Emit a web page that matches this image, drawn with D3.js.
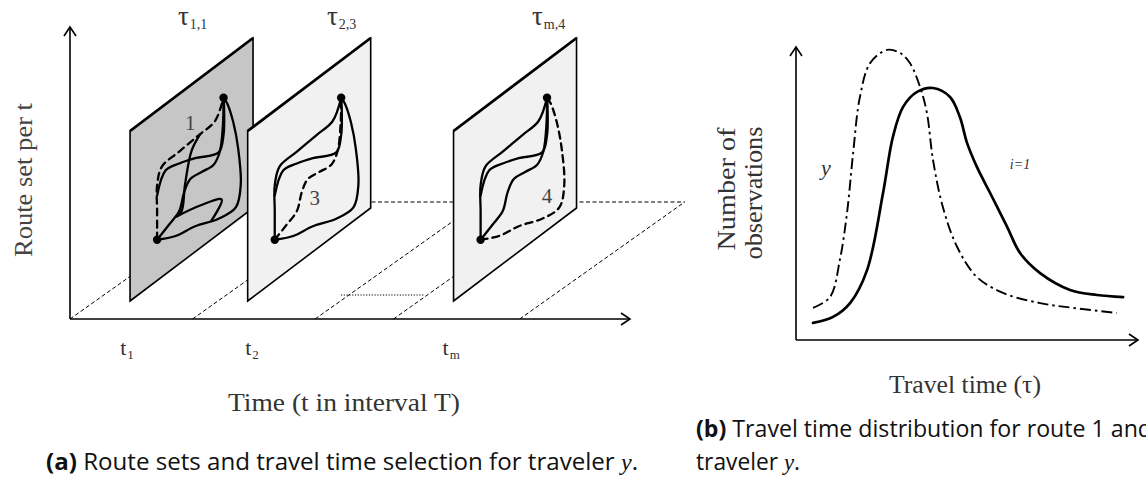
<!DOCTYPE html>
<html>
<head>
<meta charset="utf-8">
<script src="https://cdn.jsdelivr.net/npm/d3@7"></script>
<style>
body { margin: 0; background: #fff; }
svg { display: block; }
</style>
</head>
<body>
<div id="chart"></div>
<script>
// ---- data (a): time axis, panels, routes ----
var intervalEdges = [0, 1, 2, 2.64, 3.67];          // floor lines, in t units
var gapInterval = [2, 2.64];                         // dotted "..." between t2 and tm
var timeLabels = [["t", "1"], ["t", "2"], ["t", "m"]];
var timeLabelSlots = [0.41, 1.43, 3.04];
var panelSlots = [0.49, 1.45, 3.13];
var panelTau = [["\u03c4", "1,1"], ["\u03c4", "2,3"], ["\u03c4", "m,4"]];
var chosenRoute = [0, 2, 3];                         // dashed route per panel
var routeNames = ["1", "3", "4"];

// routes in panel units (u across, v up), shared by all panels
var routes = [
  [[0.22,0.24],[0.22,0.41],[0.22,0.56],[0.26,0.65],[0.40,0.66],[0.56,0.67],[0.69,0.68],[0.76,0.78]],
  [[0.22,0.50],[0.29,0.61],[0.40,0.59],[0.53,0.55],[0.72,0.48],[0.76,0.56],[0.765,0.70],[0.76,0.78]],
  [[0.22,0.24],[0.315,0.275],[0.40,0.31],[0.44,0.40],[0.49,0.45],[0.585,0.44],[0.68,0.43],[0.73,0.48],[0.755,0.62],[0.76,0.78]],
  [[0.22,0.24],[0.37,0.18],[0.53,0.15],[0.72,0.09],[0.86,0.08],[0.90,0.19],[0.88,0.41],[0.84,0.59],[0.79,0.73],[0.76,0.78]]
];
// extra links only in the first panel
var panel1Extra = [
  [[0.38,0.29],[0.42,0.30],[0.447,0.44],[0.50,0.61],[0.57,0.67]],
  [[0.38,0.29],[0.57,0.25],[0.745,0.19],[0.66,0.11]]
];
var routeEnds = [[0.22,0.24],[0.76,0.78]];

// ---- data (b): travel time distributions ----
var ttRoute = [0.5,1.09,1.59,2.09,2.56,2.85,3.15,3.56,4.03,4.53,4.82,5.03,5.32,5.71,6.21,6.59,7.18,8.06,8.85,9.62];
var obsRoute = [0.57,0.77,1.23,2.33,4.9,6.77,7.77,8.27,8.4,8.1,7.43,6.57,5.77,4.9,3.77,2.9,2.23,1.67,1.5,1.43];
var ttTraveler = [0.5,1.0,1.29,1.5,1.68,1.88,2.18,2.68,3.06,3.35,3.65,3.85,4.03,4.32,4.74,5.32,6.09,7.18,8.15,9.44];
var obsTraveler = [1.07,1.43,2.67,4.23,6.23,8.1,9.23,9.67,9.57,9.23,8.43,7.57,6.0,4.43,3.1,2.1,1.57,1.23,1.07,0.9];

var width = 1146, height = 479;
var serif = "'Liberation Serif', 'DejaVu Serif', serif";
var sans = "'Open Sans', 'Liberation Sans', sans-serif";

var svg = d3.select("#chart").append("svg")
  .attr("width", width)
  .attr("height", height);

function arrowHead(g, x, y, dir) {
  // open chevron, dir "up" or "right"
  var p = dir == "up"
    ? [[x-6, y+9], [x, y], [x+6, y+9]]
    : [[x-9, y-6], [x, y], [x-9, y+6]];
  g.append("path")
    .attr("d", d3.line()(p))
    .attr("fill", "none")
    .attr("stroke", "#000")
    .attr("stroke-width", 1.6);
}

// ================= (a) =================
var ax0 = 70, ay0 = 319;
var x = d3.scaleLinear().domain([0, 4.57]).range([ax0, 630]);
var depthX = 165, depthY = -117;
var floorSlope = -depthY / depthX;

var ga = svg.append("g");

// floor lines
ga.selectAll(".floor")
  .data(intervalEdges)
  .enter().append("line")
  .attr("x1", function(d) { return x(d); })
  .attr("y1", ay0)
  .attr("x2", function(d) { return x(d) + depthX; })
  .attr("y2", ay0 + depthY)
  .attr("stroke", "#000")
  .attr("stroke-width", 1)
  .attr("stroke-dasharray", "4,2.5");

ga.append("line")
  .attr("x1", x(intervalEdges[0]) + depthX)
  .attr("x2", x(intervalEdges[intervalEdges.length - 1]) + depthX)
  .attr("y1", ay0 + depthY)
  .attr("y2", ay0 + depthY)
  .attr("stroke", "#000")
  .attr("stroke-width", 1)
  .attr("stroke-dasharray", "4,2.5");

// dotted gap
var dotY = 295;
ga.append("line")
  .attr("x1", x(gapInterval[0]) + (ay0 - dotY) / floorSlope - 8)
  .attr("x2", x(gapInterval[1]) + (ay0 - dotY) / floorSlope - 3)
  .attr("y1", dotY)
  .attr("y2", dotY)
  .attr("stroke", "#000")
  .attr("stroke-width", 1.1)
  .attr("stroke-dasharray", "1.2,1.6");

// panels
var pW = 123, pS = 93, pH = 170, pBottom = 301;
var u = d3.scaleLinear().domain([0, 1]).range([0, pW]);
var v = d3.scaleLinear().domain([0, 1]).range([0, pH]);

function panelPoint(x0) {
  return function(p) {
    return [x0 + u(p[0]), pBottom - u(p[0]) * pS / pW - v(p[1])];
  };
}

var routeLine = d3.line().curve(d3.curveCatmullRom.alpha(0.5));

panelSlots.forEach(function(slot, i) {
  var x0 = x(slot);
  var pp = panelPoint(x0);
  var g = ga.append("g");
  var corners = [[0,0],[1,0],[1,1],[0,1]].map(pp);
  g.append("path")
    .attr("d", d3.line()(corners) + "Z")
    .attr("fill", i == 0 ? "#c6c6c6" : "#f1f1f1")
    .attr("stroke", "#000")
    .attr("stroke-width", 1.6)
    .attr("stroke-linejoin", "miter");
  g.append("path")
    .attr("d", d3.line()([corners[3], corners[2]]))
    .attr("stroke", "#000")
    .attr("stroke-width", 2.8);

  var sets = routes.slice();
  if (i == 0) sets = sets.concat(panel1Extra);
  sets.forEach(function(r, k) {
    g.append("path")
      .attr("d", routeLine(r.map(pp)))
      .attr("fill", "none")
      .attr("stroke", "#000")
      .attr("stroke-width", 2.3)
      .attr("stroke-linecap", "round")
      .attr("stroke-dasharray", k == chosenRoute[i] ? "7,5" : null);
  });
  routeEnds.forEach(function(p) {
    var q = pp(p);
    g.append("circle").attr("cx", q[0]).attr("cy", q[1]).attr("r", 4.2).attr("fill", "#000");
  });
});

// route numbers
var routeNamePos = [[0.49,0.78],[0.545,0.31],[0.76,0.20]];
panelSlots.forEach(function(slot, i) {
  var q = panelPoint(x(slot))(routeNamePos[i]);
  ga.append("text")
    .attr("x", q[0]).attr("y", q[1] + 7)
    .attr("text-anchor", "middle")
    .attr("font-family", serif)
    .attr("font-size", 21)
    .attr("fill", "#444")
    .text(routeNames[i]);
});

// tau labels
var tauX = [178, 327, 532];
panelTau.forEach(function(t, i) {
  var txt = ga.append("text")
    .attr("x", tauX[i]).attr("y", 25)
    .attr("font-family", serif)
    .attr("font-size", 27)
    .attr("fill", "#333");
  txt.append("tspan").text(t[0]);
  txt.append("tspan").attr("font-size", 14).attr("dy", 4).attr("dx", 1).text(t[1]);
});

// axes
ga.append("line").attr("x1", ax0).attr("y1", ay0).attr("x2", 630).attr("y2", ay0)
  .attr("stroke", "#000").attr("stroke-width", 1.6);
ga.append("line").attr("x1", ax0).attr("y1", ay0).attr("x2", ax0).attr("y2", 27)
  .attr("stroke", "#000").attr("stroke-width", 1.6);
arrowHead(ga, 630, ay0, "right");
arrowHead(ga, ax0, 27, "up");

// t labels
timeLabels.forEach(function(t, i) {
  var txt = ga.append("text")
    .attr("x", x(timeLabelSlots[i])).attr("y", 355)
    .attr("font-family", serif)
    .attr("font-size", 22)
    .attr("fill", "#333");
  txt.append("tspan").text(t[0]);
  txt.append("tspan").attr("font-size", 13).attr("dy", 4).attr("dx", 1).text(t[1]);
});

ga.append("text")
  .attr("x", 344).attr("y", 411)
  .attr("text-anchor", "middle")
  .attr("font-family", serif)
  .attr("font-size", 25)
  .attr("fill", "#333")
  .attr("textLength", 232)
  .attr("lengthAdjust", "spacingAndGlyphs")
  .text("Time (t in interval T)");

ga.append("text")
  .attr("transform", "translate(32,180) rotate(-90)")
  .attr("text-anchor", "middle")
  .attr("font-family", serif)
  .attr("font-size", 25)
  .attr("fill", "#444")
  .attr("textLength", 154)
  .attr("lengthAdjust", "spacingAndGlyphs")
  .text("Route set per t");

// caption (a)
var capA = svg.append("text")
  .attr("x", 46).attr("y", 470)
  .attr("font-family", sans)
  .attr("font-size", 23)
  .attr("fill", "#111")
  .attr("textLength", 592)
  .attr("lengthAdjust", "spacingAndGlyphs");
capA.append("tspan").attr("font-weight", "bold").text("(a)");
capA.append("tspan").text(" Route sets and travel time selection for traveler ");
capA.append("tspan").attr("font-family", serif).attr("font-style", "italic").text("y");
capA.append("tspan").text(".");

// ================= (b) =================
var xr = d3.scaleLinear().domain([0, 10]).range([796, 1136]);
var yr = d3.scaleLinear().domain([0, 10]).range([340, 40]);
var gb = svg.append("g");

var curve = d3.line()
  .x(function(d) { return xr(d[0]); })
  .y(function(d) { return yr(d[1]); })
  .curve(d3.curveCatmullRom.alpha(0.5));

gb.append("path")
  .datum(d3.zip(ttTraveler, obsTraveler))
  .attr("d", curve)
  .attr("fill", "none")
  .attr("stroke", "#000")
  .attr("stroke-width", 1.9)
  .attr("stroke-dasharray", "11,4,2.5,4");

gb.append("path")
  .datum(d3.zip(ttRoute, obsRoute))
  .attr("d", curve)
  .attr("fill", "none")
  .attr("stroke", "#000")
  .attr("stroke-width", 2.7)
  .attr("stroke-linecap", "round");

gb.append("line").attr("x1", xr(0)).attr("y1", yr(0)).attr("x2", 1138).attr("y2", yr(0))
  .attr("stroke", "#000").attr("stroke-width", 1.6);
gb.append("line").attr("x1", xr(0)).attr("y1", yr(0)).attr("x2", xr(0)).attr("y2", 47)
  .attr("stroke", "#000").attr("stroke-width", 1.6);
arrowHead(gb, 1138, yr(0), "right");
arrowHead(gb, xr(0), 47, "up");

gb.append("text")
  .attr("transform", "translate(735,189) rotate(-90)")
  .attr("text-anchor", "middle")
  .attr("font-family", serif)
  .attr("font-size", 25)
  .attr("fill", "#333")
  .attr("textLength", 123)
  .attr("lengthAdjust", "spacingAndGlyphs")
  .text("Number of");
gb.append("text")
  .attr("transform", "translate(762,193) rotate(-90)")
  .attr("text-anchor", "middle")
  .attr("font-family", serif)
  .attr("font-size", 25)
  .attr("fill", "#333")
  .attr("textLength", 133)
  .attr("lengthAdjust", "spacingAndGlyphs")
  .text("observations");

gb.append("text")
  .attr("x", 826).attr("y", 175)
  .attr("text-anchor", "middle")
  .attr("font-family", serif)
  .attr("font-style", "italic")
  .attr("font-size", 22)
  .attr("fill", "#333")
  .text("y");
gb.append("text")
  .attr("x", 1020).attr("y", 169)
  .attr("text-anchor", "middle")
  .attr("font-family", serif)
  .attr("font-style", "italic")
  .attr("font-size", 14)
  .attr("fill", "#333")
  .text("i=1");

gb.append("text")
  .attr("x", 965).attr("y", 393)
  .attr("text-anchor", "middle")
  .attr("font-family", serif)
  .attr("font-size", 25)
  .attr("fill", "#333")
  .attr("textLength", 152)
  .attr("lengthAdjust", "spacingAndGlyphs")
  .text("Travel time (\u03c4)");

// caption (b) runs past the right edge, as in the source figure
var capB = svg.append("text")
  .attr("x", 696).attr("y", 437)
  .attr("font-family", sans)
  .attr("font-size", 23)
  .attr("fill", "#111")
  .attr("textLength", 456)
  .attr("lengthAdjust", "spacingAndGlyphs");
capB.append("tspan").attr("font-weight", "bold").text("(b)");
capB.append("tspan").text(" Travel time distribution for route 1 and");
var capB2 = svg.append("text")
  .attr("x", 696).attr("y", 470)
  .attr("font-family", sans)
  .attr("font-size", 23)
  .attr("fill", "#111")
  .attr("textLength", 104)
  .attr("lengthAdjust", "spacingAndGlyphs");
capB2.append("tspan").text("traveler ");
capB2.append("tspan").attr("font-family", serif).attr("font-style", "italic").text("y");
capB2.append("tspan").text(".");
</script>
</body>
</html>
